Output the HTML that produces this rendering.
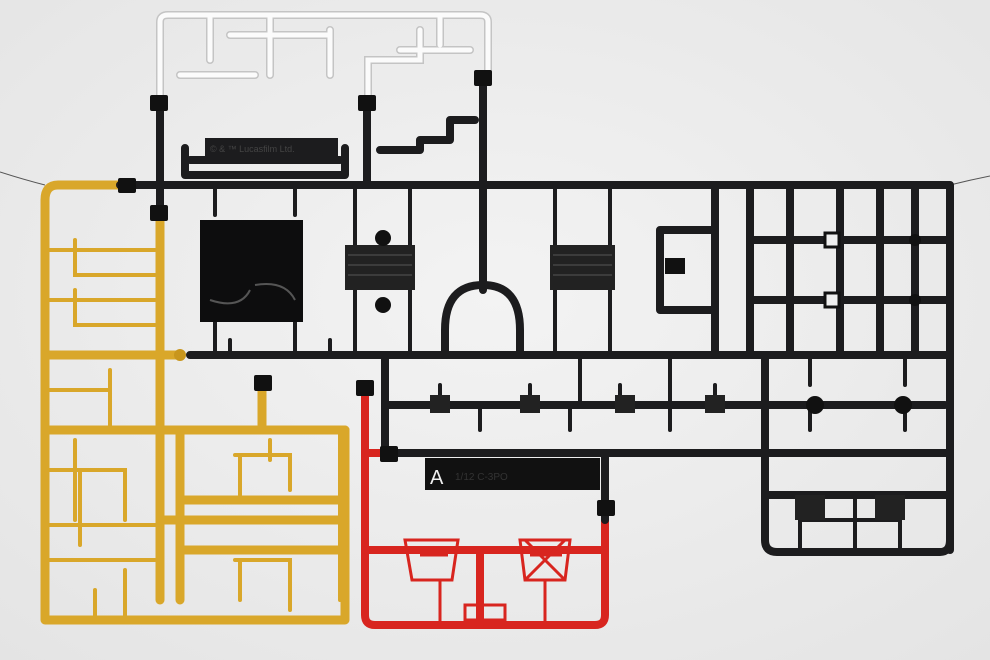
<!DOCTYPE html>
<html><head><meta charset="utf-8"><style>
html,body{margin:0;padding:0;width:990px;height:660px;overflow:hidden;background:#ececec}
svg{display:block}
</style></head><body>
<svg width="990" height="660" viewBox="0 0 990 660" xmlns="http://www.w3.org/2000/svg">
<defs>
<radialGradient id="bg" cx="50%" cy="45%" r="75%"><stop offset="0" stop-color="#f3f3f3"/><stop offset="1" stop-color="#e4e4e4"/></radialGradient>
</defs>
<rect width="990" height="660" fill="url(#bg)"/>
<path d="M0 172 Q25 180 45 185" stroke="#555" stroke-width="1" fill="none"/>
<path d="M950 185 Q970 180 990 176" stroke="#555" stroke-width="1" fill="none"/>

<!-- WHITE sprue -->
<g fill="none" stroke-linecap="round">
<g stroke="#c4c4c4" stroke-width="8">
<path d="M160 95 V22 Q160 15 168 15 H480 Q488 15 488 22 V75"/>
<path d="M368 95 V60 H420 V30 M270 15 V75 M210 15 V60 M180 75 H255 M230 35 H330 M330 30 V75 M400 50 H470 M440 15 V45"/>
</g>
<g stroke="#fbfbfb" stroke-width="5">
<path d="M160 95 V22 Q160 15 168 15 H480 Q488 15 488 22 V75"/>
<path d="M368 95 V60 H420 V30 M270 15 V75 M210 15 V60 M180 75 H255 M230 35 H330 M330 30 V75 M400 50 H470 M440 15 V45"/>
</g>
</g>

<!-- GOLD sprue -->
<g stroke="#d9a72a" stroke-width="9" fill="none" stroke-linecap="round" stroke-linejoin="round">
<path d="M120 185 H58 Q45 185 45 200 V620 H345 V430 H180 V600"/>
<path d="M160 215 V600"/>
<path d="M45 355 H180 M45 430 H345 M160 520 H345 M180 500 H345 M180 550 H345"/>
<path d="M262 380 V425"/>
</g>
<g stroke="#d9a72a" stroke-width="4" fill="none" stroke-linecap="round">
<path d="M45 250 H155 M75 240 V275 H155 M45 300 H155 M75 290 V325 H155 M45 390 H110 M110 370 V430 M75 440 V520 M45 470 H125 V520 M80 470 V545 M45 525 H160 M45 560 H155 M125 570 V620 M95 590 V620 M235 455 H290 V490 M240 455 V495 M270 440 V460 M235 560 H290 V600 M240 560 V600 M290 575 V610 M340 430 V600"/>
</g>
<circle cx="180" cy="355" r="6" fill="#c8961d"/>

<!-- RED sprue -->
<g stroke="#d8251f" stroke-width="8" fill="none" stroke-linecap="round" stroke-linejoin="round">
<path d="M365 395 V615 Q365 625 375 625 H595 Q605 625 605 615 V520"/>
<path d="M365 550 H605 M365 453 H390 M480 550 V625"/>
</g>
<g stroke="#d8251f" stroke-width="3" fill="none">
<path d="M405 540 L412 580 H452 L458 540 Z M520 540 L525 580 H565 L570 540 Z M420 555 H448 M530 555 H562 M525 540 L565 580 M565 540 L525 580"/>
<path d="M440 580 V625 M545 580 V625 M465 605 H505 V620 H465 Z"/>
</g>

<!-- BLACK sprue -->
<g stroke="#1c1c1e" stroke-width="8" fill="none" stroke-linecap="round" stroke-linejoin="round">
<path d="M120 185 H950 V355 M160 100 V215 M367 100 V185 M483 75 V290"/>
<path d="M190 355 H950 V550 M385 355 V453 H950"/>
<path d="M385 405 H945"/>
<path d="M765 355 V540 Q765 552 777 552 H940 Q950 552 950 540"/>
<path d="M765 495 H950"/>
<path d="M605 453 V520"/>
<path d="M185 148 V175 H345 V148 M190 160 H340"/>
<path d="M445 355 V330 Q445 285 483 285 Q520 285 520 330 V355"/>
<path d="M715 185 V355 M750 185 V355 M790 185 V355 M840 185 V355 M880 185 V355 M915 185 V355"/>
<path d="M660 230 V310 H715 M660 230 H715 M750 240 H950 M750 300 H950"/>
<path d="M380 150 H420 M420 150 V140 H450 V120 H475"/>
</g>
<g stroke="#1c1c1e" stroke-width="4" fill="none" stroke-linecap="round">
<path d="M215 185 V215 M295 185 V215 M215 320 V355 M295 320 V355 M355 185 V245 M410 185 V245 M555 185 V245 M610 185 V245 M355 290 V355 M410 290 V355 M555 290 V355 M610 290 V355 M230 355 V340 M330 355 V340"/>
<path d="M440 405 V385 M530 405 V385 M620 405 V385 M715 405 V385 M480 405 V430 M570 405 V430 M670 405 V430 M580 355 V405 M670 355 V405 M810 405 V430 M905 405 V430 M810 355 V385 M905 355 V385"/>
<path d="M800 495 V520 H900 V495 M855 495 V550 M800 520 V550 M900 520 V550"/>
</g>
<rect x="200" y="220" width="103" height="102" fill="#0d0d0e"/>
<path d="M210 300 Q240 310 250 290 M255 285 Q285 280 295 300" stroke="#555" stroke-width="2" fill="none"/>
<rect x="205" y="138" width="133" height="20" fill="#1c1c1e"/>
<text x="210" y="152" font-family="Liberation Sans, sans-serif" font-size="9" fill="#444">© &amp; ™ Lucasfilm Ltd.</text>
<rect x="345" y="245" width="70" height="45" fill="#222"/>
<rect x="550" y="245" width="65" height="45" fill="#222"/>
<g stroke="#555" stroke-width="1"><path d="M348 255 H412 M348 265 H412 M348 275 H412 M553 255 H612 M553 265 H612 M553 275 H612"/></g>
<circle cx="383" cy="238" r="8" fill="#111"/><circle cx="383" cy="305" r="8" fill="#111"/>
<rect x="425" y="458" width="175" height="32" fill="#111"/>
<text x="430" y="484" font-family="Liberation Sans, sans-serif" font-size="20" fill="#eee">A</text>
<text x="455" y="480" font-family="Liberation Sans, sans-serif" font-size="10" fill="#333">1/12 C-3PO</text>
<rect x="665" y="258" width="20" height="16" fill="#111"/>
<rect x="825" y="233" width="14" height="14" fill="#eee" stroke="#111" stroke-width="3"/>
<rect x="825" y="293" width="14" height="14" fill="#eee" stroke="#111" stroke-width="3"/>
<circle cx="915" cy="240" r="6" fill="#111"/><circle cx="915" cy="300" r="6" fill="#111"/>
<circle cx="815" cy="405" r="9" fill="#111"/><circle cx="903" cy="405" r="9" fill="#111"/>
<g fill="#222"><rect x="430" y="395" width="20" height="18"/><rect x="520" y="395" width="20" height="18"/><rect x="615" y="395" width="20" height="18"/><rect x="705" y="395" width="20" height="18"/></g>
<rect x="795" y="495" width="30" height="25" fill="#222"/><rect x="875" y="495" width="30" height="25" fill="#222"/>
<g fill="#111">
<rect x="118" y="178" width="18" height="15" rx="2"/><rect x="150" y="205" width="18" height="16" rx="2"/>
<rect x="150" y="95" width="18" height="16" rx="2"/><rect x="358" y="95" width="18" height="16" rx="2"/><rect x="474" y="70" width="18" height="16" rx="2"/>
<rect x="254" y="375" width="18" height="16" rx="2"/><rect x="356" y="380" width="18" height="16" rx="2"/><rect x="380" y="446" width="18" height="16" rx="2"/><rect x="597" y="500" width="18" height="16" rx="2"/>
</g>
</svg>
</body></html>
